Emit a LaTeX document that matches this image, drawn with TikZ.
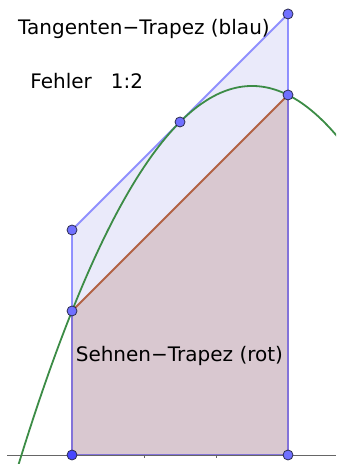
\documentclass[tikz,border=0pt]{standalone}
\usepackage{amsmath, amssymb}
\usepackage{fontspec}
\setmainfont{DejaVu Sans}
\usepackage{tikz}
\usetikzlibrary{calc}
\usepackage{tkz-euclide}
\definecolor{tangblue}{RGB}{120,120,255}
\definecolor{tangfill}{RGB}{234,234,250}
\definecolor{sehnfill}{RGB}{217,200,208}
\definecolor{sehnbrown}{RGB}{178,98,68}
\definecolor{fctgreen}{RGB}{60,140,70}
\definecolor{ptblue}{RGB}{112,112,255}
\definecolor{ptdark}{RGB}{70,70,255}
\definecolor{ptedge}{RGB}{45,45,80}
\tikzset{gpoint/.style={fill=ptblue, draw=ptedge, line width=0.8bp}}

\begin{document}
\begin{tikzpicture}[x=72bp, y=72bp, font=\fontsize{20bp}{24bp}\selectfont]
                \useasboundingbox (0,-0.125) rectangle (4.667,6.319);
                \tkzDefPoint(1,0){A}
                \tkzDefPoint(4,0){B}
                \tkzDefPoint(4,5){C}
                \tkzDefPoint(1,2){D}
                \tkzDefPoint(2.5,4.625){T}
                \tkzDefPoint(1,3.125){E}
                \tkzDefPoint(4,6.125){F}
                \tkzFillPolygon[fill=tangfill](A,B,F,E)
                \tkzFillPolygon[fill=sehnfill](A,B,C,D)
                \tkzDrawPolygon[sehnbrown, line width=1.8bp](A,B,C,D)
                \tkzDrawPolygon[tangblue, line width=1.8bp, opacity=0.8](A,B,F,E)
                \draw[gray!80!black, line width=0.8bp] (0.1,0) -- (4.667,0);
                \foreach \t in {2,3}
                    \draw[gray!80!black, line width=0.8bp] (\t,0) -- (\t,-0.045);
                \begin{scope}
                    \clip (0,-0.125) rectangle (4.667,6.319);
                    \draw[fctgreen, line width=1.8bp] plot[domain=0.2:4.75, samples=90, smooth]
                        (\x, {-0.5*\x*\x+3.5*\x-1});
                \end{scope}
                \foreach \p in {B,C,D,T,E,F}
                    \filldraw[gpoint] (\p) circle (5bp);
                \filldraw[gpoint, fill=ptdark] (A) circle (5bp);
                \node[anchor=base west, inner sep=0pt] (tangtext) at (0.25,5.837) {Tangenten−Trapez (blau)};
                \node[anchor=base west, inner sep=0pt] (fehlertext) at (0.42,5.083) {Fehler\ \ \ 1:2};
                \node[anchor=base west, inner sep=0pt] (sehntext) at (1.05,1.292) {Sehnen−Trapez (rot)};
\end{tikzpicture}
\end{document}
